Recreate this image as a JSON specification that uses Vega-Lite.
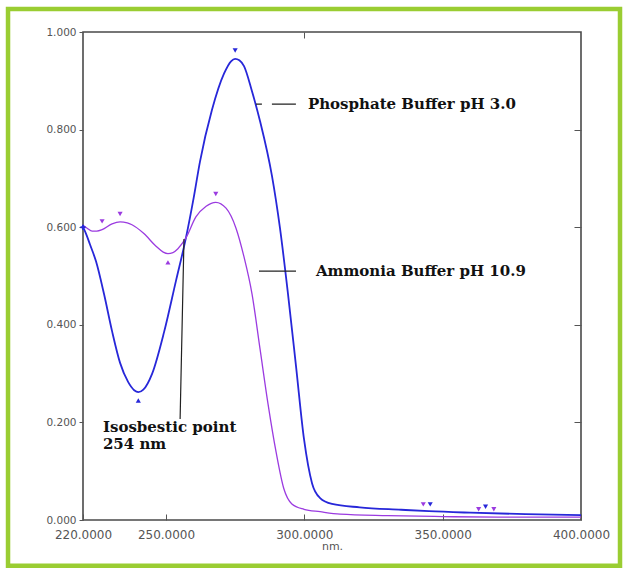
{
  "$schema": "https://vega.github.io/schema/vega-lite/v6.json",
  "width": 498,
  "height": 488,
  "autosize": {"type": "none"},
  "padding": {"left": 83, "top": 32, "right": 47, "bottom": 59},
  "background": "white",
  "config": {
    "view": {"stroke": "#4a4a4a", "strokeWidth": 1.6},
    "axis": {"labelFont": "DejaVu Sans", "titleFont": "DejaVu Sans", "labelColor": "#555", "titleColor": "#555", "tickColor": "#555", "domain": false, "grid": false, "labelFlush": false}
  },
  "datasets": {
    "spectra": [
      {"s": "Phosphate Buffer pH 3.0", "x": 220, "y": 0.600},
      {"s": "Phosphate Buffer pH 3.0", "x": 221, "y": 0.588},
      {"s": "Phosphate Buffer pH 3.0", "x": 222.5, "y": 0.565},
      {"s": "Phosphate Buffer pH 3.0", "x": 224.7, "y": 0.530},
      {"s": "Phosphate Buffer pH 3.0", "x": 227.6, "y": 0.463},
      {"s": "Phosphate Buffer pH 3.0", "x": 230.5, "y": 0.387},
      {"s": "Phosphate Buffer pH 3.0", "x": 233.4, "y": 0.322},
      {"s": "Phosphate Buffer pH 3.0", "x": 236.3, "y": 0.283},
      {"s": "Phosphate Buffer pH 3.0", "x": 238.5, "y": 0.266},
      {"s": "Phosphate Buffer pH 3.0", "x": 240, "y": 0.262},
      {"s": "Phosphate Buffer pH 3.0", "x": 241.8, "y": 0.267},
      {"s": "Phosphate Buffer pH 3.0", "x": 245, "y": 0.300},
      {"s": "Phosphate Buffer pH 3.0", "x": 249.3, "y": 0.385},
      {"s": "Phosphate Buffer pH 3.0", "x": 253.6, "y": 0.490},
      {"s": "Phosphate Buffer pH 3.0", "x": 257.2, "y": 0.578},
      {"s": "Phosphate Buffer pH 3.0", "x": 260, "y": 0.660},
      {"s": "Phosphate Buffer pH 3.0", "x": 262.3, "y": 0.735},
      {"s": "Phosphate Buffer pH 3.0", "x": 266.6, "y": 0.840},
      {"s": "Phosphate Buffer pH 3.0", "x": 271, "y": 0.915},
      {"s": "Phosphate Buffer pH 3.0", "x": 273.5, "y": 0.940},
      {"s": "Phosphate Buffer pH 3.0", "x": 275, "y": 0.945},
      {"s": "Phosphate Buffer pH 3.0", "x": 276.5, "y": 0.942},
      {"s": "Phosphate Buffer pH 3.0", "x": 278.2, "y": 0.930},
      {"s": "Phosphate Buffer pH 3.0", "x": 281, "y": 0.880},
      {"s": "Phosphate Buffer pH 3.0", "x": 284, "y": 0.817},
      {"s": "Phosphate Buffer pH 3.0", "x": 288.3, "y": 0.705},
      {"s": "Phosphate Buffer pH 3.0", "x": 291.2, "y": 0.598},
      {"s": "Phosphate Buffer pH 3.0", "x": 294.1, "y": 0.463},
      {"s": "Phosphate Buffer pH 3.0", "x": 297, "y": 0.315},
      {"s": "Phosphate Buffer pH 3.0", "x": 299.9, "y": 0.165},
      {"s": "Phosphate Buffer pH 3.0", "x": 302.8, "y": 0.075},
      {"s": "Phosphate Buffer pH 3.0", "x": 305.7, "y": 0.045},
      {"s": "Phosphate Buffer pH 3.0", "x": 310, "y": 0.033},
      {"s": "Phosphate Buffer pH 3.0", "x": 320, "y": 0.026},
      {"s": "Phosphate Buffer pH 3.0", "x": 335, "y": 0.021},
      {"s": "Phosphate Buffer pH 3.0", "x": 345, "y": 0.018},
      {"s": "Phosphate Buffer pH 3.0", "x": 360, "y": 0.015},
      {"s": "Phosphate Buffer pH 3.0", "x": 380, "y": 0.012},
      {"s": "Phosphate Buffer pH 3.0", "x": 400, "y": 0.010},
      {"s": "Ammonia Buffer pH 10.9", "x": 220, "y": 0.604},
      {"s": "Ammonia Buffer pH 10.9", "x": 221.5, "y": 0.598},
      {"s": "Ammonia Buffer pH 10.9", "x": 223.3, "y": 0.592},
      {"s": "Ammonia Buffer pH 10.9", "x": 225, "y": 0.592},
      {"s": "Ammonia Buffer pH 10.9", "x": 226.9, "y": 0.595},
      {"s": "Ammonia Buffer pH 10.9", "x": 230.5, "y": 0.607},
      {"s": "Ammonia Buffer pH 10.9", "x": 233.4, "y": 0.611},
      {"s": "Ammonia Buffer pH 10.9", "x": 236, "y": 0.609},
      {"s": "Ammonia Buffer pH 10.9", "x": 237.7, "y": 0.605},
      {"s": "Ammonia Buffer pH 10.9", "x": 242, "y": 0.587},
      {"s": "Ammonia Buffer pH 10.9", "x": 246.4, "y": 0.561},
      {"s": "Ammonia Buffer pH 10.9", "x": 249, "y": 0.549},
      {"s": "Ammonia Buffer pH 10.9", "x": 250.7, "y": 0.546},
      {"s": "Ammonia Buffer pH 10.9", "x": 252.5, "y": 0.548},
      {"s": "Ammonia Buffer pH 10.9", "x": 254.3, "y": 0.556},
      {"s": "Ammonia Buffer pH 10.9", "x": 257.2, "y": 0.578},
      {"s": "Ammonia Buffer pH 10.9", "x": 260.8, "y": 0.621},
      {"s": "Ammonia Buffer pH 10.9", "x": 264.5, "y": 0.643},
      {"s": "Ammonia Buffer pH 10.9", "x": 268, "y": 0.651},
      {"s": "Ammonia Buffer pH 10.9", "x": 271.7, "y": 0.639},
      {"s": "Ammonia Buffer pH 10.9", "x": 275.3, "y": 0.598},
      {"s": "Ammonia Buffer pH 10.9", "x": 278.2, "y": 0.539},
      {"s": "Ammonia Buffer pH 10.9", "x": 281.1, "y": 0.463},
      {"s": "Ammonia Buffer pH 10.9", "x": 284, "y": 0.350},
      {"s": "Ammonia Buffer pH 10.9", "x": 286.9, "y": 0.237},
      {"s": "Ammonia Buffer pH 10.9", "x": 289.8, "y": 0.139},
      {"s": "Ammonia Buffer pH 10.9", "x": 292.6, "y": 0.064},
      {"s": "Ammonia Buffer pH 10.9", "x": 295.5, "y": 0.033},
      {"s": "Ammonia Buffer pH 10.9", "x": 299.9, "y": 0.022},
      {"s": "Ammonia Buffer pH 10.9", "x": 305.7, "y": 0.017},
      {"s": "Ammonia Buffer pH 10.9", "x": 312.9, "y": 0.012},
      {"s": "Ammonia Buffer pH 10.9", "x": 330, "y": 0.009},
      {"s": "Ammonia Buffer pH 10.9", "x": 350, "y": 0.007},
      {"s": "Ammonia Buffer pH 10.9", "x": 370, "y": 0.006},
      {"s": "Ammonia Buffer pH 10.9", "x": 400, "y": 0.006}
    ],
    "markers": [
      {"s": "Phosphate Buffer pH 3.0", "x": 220, "y": 0.600, "kind": "cross"},
      {"s": "Phosphate Buffer pH 3.0", "x": 275, "y": 0.962, "kind": "triangle-down"},
      {"s": "Phosphate Buffer pH 3.0", "x": 240, "y": 0.245, "kind": "triangle-up"},
      {"s": "Ammonia Buffer pH 10.9", "x": 226.9, "y": 0.612, "kind": "triangle-down"},
      {"s": "Ammonia Buffer pH 10.9", "x": 233.4, "y": 0.627, "kind": "triangle-down"},
      {"s": "Ammonia Buffer pH 10.9", "x": 250.7, "y": 0.528, "kind": "triangle-up"},
      {"s": "Ammonia Buffer pH 10.9", "x": 268, "y": 0.668, "kind": "triangle-down"},
      {"s": "Ammonia Buffer pH 10.9", "x": 343, "y": 0.032, "kind": "triangle-down"},
      {"s": "Phosphate Buffer pH 3.0", "x": 345.5, "y": 0.032, "kind": "triangle-down"},
      {"s": "Ammonia Buffer pH 10.9", "x": 363, "y": 0.022, "kind": "triangle-down"},
      {"s": "Phosphate Buffer pH 3.0", "x": 365.5, "y": 0.027, "kind": "triangle-down"},
      {"s": "Ammonia Buffer pH 10.9", "x": 368.5, "y": 0.022, "kind": "triangle-down"}
    ],
    "leaders": [
      {"x": 282.5, "x2": 297, "y": 0.852, "y2": 0.852, "dash": "d"},
      {"x": 283.6, "x2": 297, "y": 0.51, "y2": 0.51, "dash": "s"},
      {"x": 256.5, "x2": 255.1, "y": 0.576, "y2": 0.207, "dash": "s"}
    ],
    "notes": [
      {"x": 301.3, "y": 0.852, "label": "Phosphate Buffer pH 3.0"},
      {"x": 304.2, "y": 0.51, "label": "Ammonia Buffer pH 10.9"},
      {"x": 227.2, "y": 0.190, "label": "Isosbestic point"},
      {"x": 227.2, "y": 0.155, "label": "254 nm"}
    ]
  },
  "layer": [
    {
      "data": {"values": [{}]},
      "mark": {"type": "rect", "fillOpacity": 0, "stroke": "#9ACD32", "strokeWidth": 4.5, "strokeOpacity": 1},
      "encoding": {
        "x": {"datum": 192.9, "type": "quantitative", "scale": {"domain": [220, 400]}, "axis": null},
        "x2": {"datum": 414.1},
        "y": {"datum": 1.047, "type": "quantitative", "scale": {"domain": [0, 1]}, "axis": null},
        "y2": {"datum": -0.094}
      }
    },
    {
      "data": {"name": "spectra"},
      "mark": {"type": "line", "interpolate": "monotone"},
      "encoding": {
        "x": {"field": "x", "type": "quantitative", "scale": {"domain": [220, 400]},
          "axis": {"orient": "bottom", "values": [220, 250, 300, 350, 400], "format": ".4f", "labelFontSize": 12, "labelPadding": 15, "tickSize": -6, "labelOverlap": false, "title": "nm.", "titleFontSize": 11, "titleFontWeight": "normal", "titlePadding": 0}},
        "y": {"field": "y", "type": "quantitative", "scale": {"domain": [0, 1]},
          "axis": {"orient": "left", "values": [0, 0.2, 0.4, 0.6, 0.8, 1], "format": ".3f", "labelFontSize": 10.5, "labelPadding": 3, "tickSize": 4, "title": null}},
        "color": {"field": "s", "type": "nominal", "scale": {"domain": ["Phosphate Buffer pH 3.0", "Ammonia Buffer pH 10.9"], "range": ["#2727D9", "#9B3BE0"]}, "legend": null},
        "strokeWidth": {"field": "s", "type": "nominal", "scale": {"domain": ["Phosphate Buffer pH 3.0", "Ammonia Buffer pH 10.9"], "range": [1.8, 1.3]}, "legend": null}
      }
    },
    {
      "data": {"name": "markers"},
      "mark": {"type": "point", "filled": true, "size": 26, "opacity": 1},
      "encoding": {
        "x": {"field": "x", "type": "quantitative", "scale": {"domain": [220, 400]},
          "axis": {"orient": "top", "values": [300], "labels": false, "tickSize": -6, "title": null}},
        "y": {"field": "y", "type": "quantitative", "scale": {"domain": [0, 1]},
          "axis": {"orient": "right", "values": [0.2, 0.4, 0.6, 0.8], "labels": false, "tickSize": -7, "title": null}},
        "shape": {"field": "kind", "type": "nominal", "scale": null, "legend": null},
        "color": {"field": "s", "type": "nominal", "scale": {"domain": ["Phosphate Buffer pH 3.0", "Ammonia Buffer pH 10.9"], "range": ["#2727D9", "#9B3BE0"]}, "legend": null}
      }
    },
    {
      "data": {"name": "leaders"},
      "mark": {"type": "rule", "color": "#222", "strokeWidth": 1.2},
      "encoding": {
        "x": {"field": "x", "type": "quantitative", "scale": {"domain": [220, 400]}, "axis": null},
        "x2": {"field": "x2"},
        "y": {"field": "y", "type": "quantitative", "scale": {"domain": [0, 1]}, "axis": null},
        "y2": {"field": "y2"},
        "strokeDash": {"field": "dash", "type": "nominal", "scale": {"domain": ["d", "s"], "range": [[6, 10, 24, 30], [1, 0]]}, "legend": null}
      }
    },
    {
      "data": {"name": "notes"},
      "mark": {"type": "text", "align": "left", "baseline": "middle", "font": "DejaVu Serif", "fontWeight": "bold", "fontSize": 15, "color": "#111"},
      "encoding": {
        "x": {"field": "x", "type": "quantitative", "scale": {"domain": [220, 400]}, "axis": null},
        "y": {"field": "y", "type": "quantitative", "scale": {"domain": [0, 1]}, "axis": null},
        "text": {"field": "label"}
      }
    }
  ]
}
